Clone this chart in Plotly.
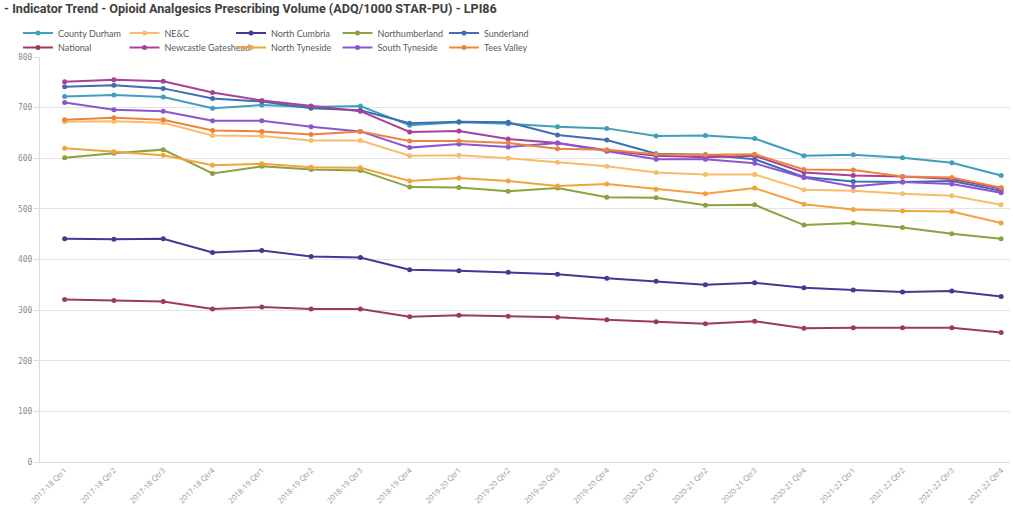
import plotly.graph_objects as go

quarters = ["2017-18 Qtr1", "2017-18 Qtr2", "2017-18 Qtr3", "2017-18 Qtr4",
            "2018-19 Qtr1", "2018-19 Qtr2", "2018-19 Qtr3", "2018-19 Qtr4",
            "2019-20 Qtr1", "2019-20 Qtr2", "2019-20 Qtr3", "2019-20 Qtr4",
            "2020-21 Qtr1", "2020-21 Qtr2", "2020-21 Qtr3", "2020-21 Qtr4",
            "2021-22 Qtr1", "2021-22 Qtr2", "2021-22 Qtr3", "2021-22 Qtr4"]

county_durham = [722, 725, 721, 699, 705, 701, 703, 665, 671, 668, 662, 659, 644, 645, 639, 605, 607, 601, 591, 566]
ne_c = [672, 673, 670, 645, 644, 635, 635, 605, 606, 600, 592, 584, 572, 568, 568, 538, 536, 530, 526, 508]
north_cumbria = [441, 440, 441, 414, 418, 406, 404, 380, 378, 375, 371, 363, 357, 350, 354, 344, 340, 336, 338, 327]
northumberland = [601, 610, 617, 570, 584, 578, 576, 543, 542, 535, 541, 523, 522, 507, 508, 468, 472, 463, 451, 441]
sunderland = [741, 744, 738, 718, 712, 699, 695, 669, 672, 671, 646, 636, 609, 607, 598, 563, 554, 553, 555, 536]
national = [321, 319, 317, 302, 306, 302, 302, 287, 290, 288, 286, 281, 277, 273, 278, 264, 265, 265, 265, 256]
newcastle_gateshead = [751, 755, 752, 730, 714, 703, 693, 652, 654, 638, 630, 616, 605, 602, 605, 572, 566, 564, 559, 540]
north_tyneside = [620, 613, 606, 586, 589, 582, 581, 555, 561, 555, 545, 549, 539, 530, 541, 509, 499, 496, 495, 472]
south_tyneside = [710, 696, 693, 674, 674, 662, 653, 621, 628, 622, 630, 614, 598, 598, 590, 562, 544, 553, 549, 532]
tees_valley = [676, 680, 676, 655, 653, 647, 653, 634, 634, 630, 619, 617, 608, 607, 608, 578, 577, 564, 562, 542]

series_row1 = [
    ("County Durham", county_durham, "#3f9fbd"),
    ("NE&C", ne_c, "#f6be6a"),
    ("North Cumbria", north_cumbria, "#4b3592"),
    ("Northumberland", northumberland, "#8da13d"),
    ("Sunderland", sunderland, "#3d6db3"),
]
series_row2 = [
    ("National", national, "#9d3a5b"),
    ("Newcastle Gateshead", newcastle_gateshead, "#a8409a"),
    ("North Tyneside", north_tyneside, "#f2a23f"),
    ("South Tyneside", south_tyneside, "#8b55d0"),
    ("Tees Valley", tees_valley, "#ec833d"),
]

fig = go.Figure()
for legend_name, group in (("legend", series_row1), ("legend2", series_row2)):
    for name, vals, col in group:
        fig.add_trace(go.Scatter(
            x=quarters, y=vals, name=name, mode="lines+markers",
            line=dict(color=col, width=2),
            marker=dict(color=col, size=5),
            legend=legend_name,
        ))

legend_common = dict(
    orientation="h", xref="container", yref="container",
    xanchor="left", yanchor="middle",
    font=dict(family="Lato, Open Sans, sans-serif", size=9, color="#595959"),
    entrywidth=61.5, entrywidthmode="pixels",
    bgcolor="rgba(0,0,0,0)", itemclick=False, itemdoubleclick=False,
    tracegroupgap=0,
)

fig.update_layout(
    width=1013, height=506,
    margin=dict(l=40, r=3, t=57, b=44, autoexpand=False),
    paper_bgcolor="white", plot_bgcolor="white",
    title=dict(
        text="<b>- Indicator Trend - Opioid Analgesics Prescribing Volume (ADQ/1000 STAR-PU) - LPI86</b>",
        x=0.004, xanchor="left", y=1 - 9 / 506, yanchor="middle",
        font=dict(family="Liberation Sans Narrow, Roboto, sans-serif", size=12.6, color="#404040"),
    ),
    legend=dict(x=18 / 1013, y=1 - 33 / 506, **legend_common),
    legend2=dict(x=18 / 1013, y=1 - 47.5 / 506, **legend_common),
    showlegend=True,
    xaxis=dict(
        type="category", range=[-0.5, 19.18],
        tickangle=-45, tickfont=dict(family="Open Sans, sans-serif", size=7.6, color="#999999"),
        showgrid=False, showline=True, linecolor="#dcdcdc", linewidth=1,
        ticks="", zeroline=False,
    ),
    yaxis=dict(
        range=[0, 800], tickvals=[0, 100, 200, 300, 400, 500, 600, 700, 800],
        tickfont=dict(family="DejaVu Sans Mono, monospace", size=8, color="#8c8c8c"),
        showgrid=True, gridcolor="#e3e3e3", gridwidth=1,
        showline=True, linecolor="#dcdcdc", linewidth=1,
        ticks="outside", ticklen=5, tickcolor="#dcdcdc", zeroline=False,
    ),
)

fig.write_html("out.html")
